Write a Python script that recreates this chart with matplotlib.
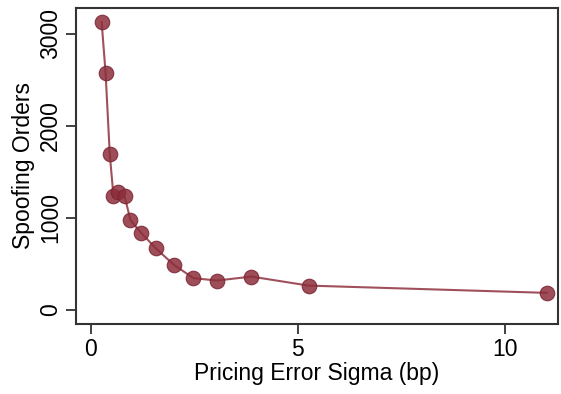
import matplotlib.pyplot as plt

plt.rcParams['font.family'] = ['Liberation Sans', 'DejaVu Sans']

# pricing error sigma (bp) vs number of spoofing orders
sigma = [0.265, 0.36, 0.46, 0.55, 0.67, 0.82, 0.96, 1.22, 1.57, 2.0, 2.48, 3.05, 3.88, 5.26, 11.01]
orders = [3127, 2576, 1699, 1236, 1286, 1236, 975, 837, 670, 493, 345, 319, 362, 264, 185]

fig = plt.figure(figsize=(5.61, 3.94), dpi=100)
ax = fig.add_axes([0.1355, 0.178, 0.859, 0.802])

ax.plot(sigma, orders, color='#a0505a', lw=1.5, zorder=2)
ax.scatter(sigma, orders, s=110, color='#8c2f3b', alpha=0.85,
           edgecolor='#7a2230', linewidth=0.8, zorder=3)

ax.set_xlim(-0.354, 11.28)
ax.set_ylim(-152, 3283)
ax.set_xticks([0, 5, 10])
ax.set_yticks([0, 1000, 2000, 3000])
ax.tick_params(axis='both', labelsize=16.5, length=7, width=1.3, color='#333333', pad=3)
ax.tick_params(axis='y', labelrotation=90)
for lab in ax.get_yticklabels():
    lab.set_va('center')

for sp in ax.spines.values():
    sp.set_linewidth(1.5)
    sp.set_color('#333333')

ax.set_xlabel('Pricing Error Sigma (bp)', fontsize=16.5, labelpad=1)
ax.set_ylabel('Spoofing Orders', fontsize=16.5, labelpad=3)

fig.savefig('out.png', dpi=100)
